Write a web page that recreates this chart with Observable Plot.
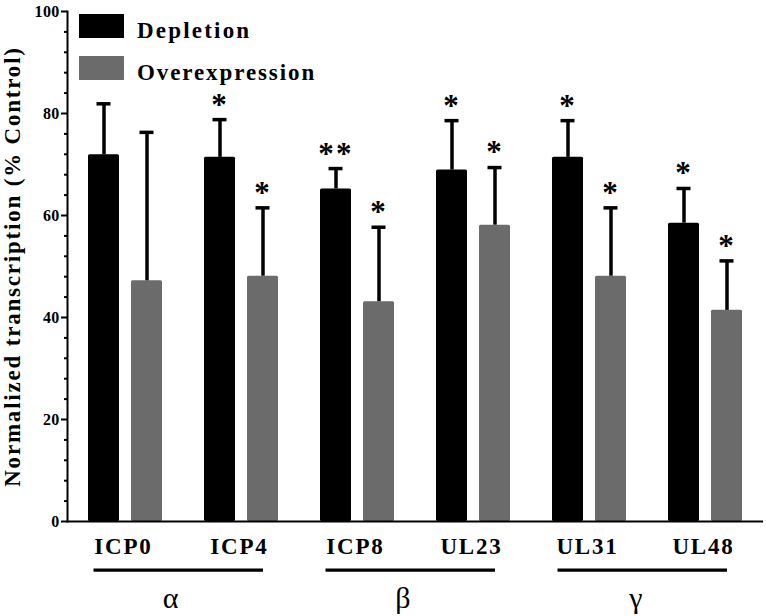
<!DOCTYPE html>
<html>
<head>
<meta charset="utf-8">
<script src="https://cdn.jsdelivr.net/npm/d3@7"></script>
<script src="https://cdn.jsdelivr.net/npm/@observablehq/plot@0.6"></script>
<style>
  body { margin: 0; background: #fff; }
  #chart svg { font-family: "Liberation Serif", "Times New Roman", serif !important; font-weight: bold; }
  #chart svg text { letter-spacing: 1.8px; font-family: "Liberation Serif", "Times New Roman", serif !important; }
  #chart svg g[aria-label="y-axis tick label"] { font-size: 16px; font-weight: bold; }
  #chart svg g[aria-label="y-axis tick label"] text { letter-spacing: 0.3px; }
  #chart svg g[aria-label="y-axis label"] { font-size: 23px; font-weight: bold; }
  #chart svg g.greek text { letter-spacing: 0; }
  #chart svg g.stars text { letter-spacing: 2.2px; }
  #chart svg g.legend text { text-anchor: start; }
</style>
</head>
<body>
<div id="chart"></div>
<script>
// ---- data ----
const genes = ["ICP0", "ICP4", "ICP8", "UL23", "UL31", "UL48"];
const classes = ["α", "β", "γ"];
const series = ["Depletion", "Overexpression"];
const depletion = [71.9, 71.4, 65.2, 68.9, 71.4, 58.5];
const depletionErr = [10.0, 7.4, 4.0, 9.7, 7.2, 6.8];
const depletionStars = ["", "*", "**", "*", "*", "*"];
const overexpression = [47.2, 48.1, 43.1, 58.1, 48.1, 41.4];
const overexpressionErr = [29.1, 13.4, 14.6, 11.3, 13.4, 9.7];
const overexpressionStars = ["", "*", "*", "*", "*", "*"];
const majorTicks = [0, 20, 40, 60, 80, 100];
const minorTicks = d3.range(0, 101, 4).filter(v => v % 20 !== 0);
const colors = ["#000000", "#6b6b6b"];

const table = genes.flatMap((g, i) => [
  {gene: g, series: series[0], value: depletion[i], upper: depletion[i] + depletionErr[i], stars: depletionStars[i]},
  {gene: g, series: series[1], value: overexpression[i], upper: overexpression[i] + overexpressionErr[i], stars: overexpressionStars[i]}
]);
const groupFirst = classes.map((c, i) => ({cls: c, gene: genes[2 * i]}));
const groupLast = classes.map((c, i) => ({cls: c, gene: genes[2 * i + 1]}));

const chart = Plot.plot({
  width: 766,
  height: 616,
  marginLeft: 66,
  marginRight: 3,
  marginTop: 11,
  marginBottom: 95,
  style: {background: "#fff", color: "#000"},
  fx: {domain: genes, padding: 0, axis: null},
  x: {domain: series, paddingInner: 0.276, paddingOuter: 0.474, axis: null},
  y: {domain: [0, 100]},
  color: {domain: series, range: colors},
  marks: [
    Plot.barY(table, {fx: "gene", x: "series", y: "value", fill: "series", rx: 1.5}),
    Plot.ruleX(table, {fx: "gene", x: "series", y1: "value", y2: "upper", stroke: "#000", strokeWidth: 3.5}),
    Plot.tickY(table, {fx: "gene", x: "series", y: "upper", stroke: "#000", strokeWidth: 3.5, insetLeft: 8.5, insetRight: 8.5}),
    Plot.text(table.filter(d => d.stars), {fx: "gene", x: "series", y: "upper", text: "stars", dy: -15, fontSize: 31, fontWeight: "bold", lineAnchor: "middle", className: "stars"}),
    Plot.ruleY([0], {stroke: "#000", strokeWidth: 2}),
    Plot.frame({anchor: "left", facetAnchor: "left", stroke: "#000", strokeWidth: 2}),
    Plot.axisY({ticks: majorTicks, tickSize: 6, tickPadding: 2, strokeWidth: 2, fontSize: 16,
      label: "Normalized transcription (% Control)", labelAnchor: "center", labelArrow: "none", labelOffset: 64}),
    Plot.axisY({ticks: minorTicks, tickSize: 3, strokeWidth: 2, tickFormat: () => "", label: null}),
    Plot.text(genes, {fx: d => d, text: d => d, frameAnchor: "bottom", dy: 25, dx: -2, fontSize: 23, fontWeight: "bold", lineAnchor: "middle"}),
    Plot.ruleY(groupFirst, {fx: "gene", y: () => 0, dy: 48.6, insetLeft: 26.5, stroke: "#000", strokeWidth: 3.3}),
    Plot.ruleY(groupLast, {fx: "gene", y: () => 0, dy: 48.6, insetRight: 36, stroke: "#000", strokeWidth: 3.3}),
    Plot.text(groupFirst, {fx: "gene", text: "cls", frameAnchor: "bottom-right", dx: -5, dy: 77, fontSize: 30, fontWeight: "normal", lineAnchor: "middle", className: "greek"})
  ]
});

document.getElementById("chart").appendChild(chart);

// legend inside the SVG (top-left of plot area)
const svg = d3.select(chart);
const leg = svg.append("g").attr("aria-label", "legend").attr("class", "legend");
series.forEach((s, i) => {
  const y0 = 14 + i * 42;
  leg.append("rect").attr("x", 79).attr("y", y0).attr("width", 45).attr("height", 24).attr("fill", colors[i]);
  leg.append("text").attr("x", 137).attr("y", y0 + 23.5)
    .attr("font-size", 23).attr("font-weight", "bold").attr("fill", "#000").attr("text-anchor", "start")
    .style("letter-spacing", i === 0 ? "2.2px" : "1.9px")
    .text(s);
});
</script>
</body>
</html>
